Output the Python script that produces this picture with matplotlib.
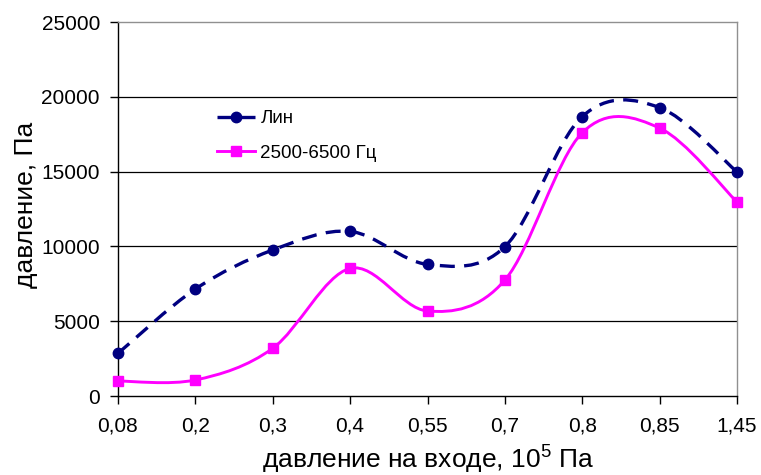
import numpy as np
import matplotlib
matplotlib.use('Agg')
import matplotlib.pyplot as plt
from matplotlib.path import Path
from matplotlib.patches import PathPatch
from matplotlib.lines import Line2D

plt.rcParams['font.family'] = ['Liberation Sans', 'DejaVu Sans']
plt.rcParams['mathtext.fontset'] = 'custom'
plt.rcParams['mathtext.rm'] = 'Liberation Sans'
plt.rcParams['mathtext.default'] = 'regular'

# data
categories = ['0,08', '0,2', '0,3', '0,4', '0,55', '0,7', '0,8', '0,85', '1,45']
lin_values = [2850, 7150, 9760, 11000, 8800, 9980, 18680, 19280, 14980]
hz_values = [1000, 1070, 3190, 8530, 5680, 7750, 17600, 17910, 12970]
y_ticks = [0, 5000, 10000, 15000, 20000, 25000]


def smooth_path(xs, ys):
    # Excel-like smoothed line: Catmull-Rom turned into cubic Bezier pieces
    pts = np.column_stack([xs, ys]).astype(float)
    n = len(pts)
    verts = [pts[0]]
    codes = [Path.MOVETO]
    for i in range(n - 1):
        p0 = pts[i - 1] if i > 0 else pts[i]
        p1 = pts[i]
        p2 = pts[i + 1]
        p3 = pts[i + 2] if i + 2 < n else pts[i + 1]
        c1 = p1 + (p2 - p0) / 6.0
        c2 = p2 - (p3 - p1) / 6.0
        verts += [c1, c2, p2]
        codes += [Path.CURVE4] * 3
    return Path(verts, codes)


fig = plt.figure(figsize=(7.61, 4.75), dpi=100)
ax = fig.add_axes([118 / 761, 1 - 396 / 475, 619 / 761, 374 / 475])

x = np.arange(len(categories))
navy = '#000080'
pink = '#FF00FF'

# grid lines
for v in y_ticks[1:-1]:
    ax.axhline(v, color='black', linewidth=0.9, zorder=1)

# smoothed lines
ax.add_patch(PathPatch(smooth_path(x, lin_values), facecolor='none', edgecolor=navy,
                       linewidth=2.4, linestyle=(0, (4.5, 2.8)), zorder=3))
ax.add_patch(PathPatch(smooth_path(x, hz_values), facecolor='none', edgecolor=pink,
                       linewidth=2.1, zorder=3))

# markers
ax.plot(x, lin_values, linestyle='none', marker='o', markersize=7.5, color=navy,
        zorder=4, clip_on=False)
ax.plot(x, hz_values, linestyle='none', marker='s', markersize=7, color=pink,
        zorder=4, clip_on=False)

ax.set_xlim(0, len(categories) - 1)
ax.set_ylim(0, 25000)
ax.set_xticks(x)
ax.set_xticklabels(categories)
ax.set_yticks(y_ticks)
ax.tick_params(axis='both', direction='out', length=6, width=1, labelsize=15, color='black')
ax.tick_params(axis='x', pad=9)
ax.tick_params(axis='y', pad=7)

for side in ['left', 'bottom']:
    ax.spines[side].set_color('black')
    ax.spines[side].set_linewidth(1)
for side in ['top', 'right']:
    ax.spines[side].set_color('#909090')
    ax.spines[side].set_linewidth(1)

# legend
handles = [
    Line2D([], [], color=navy, linewidth=2.4, linestyle=(0, (4.5, 2.8)),
           marker='o', markersize=7.5),
    Line2D([], [], color=pink, linewidth=2.1, marker='s', markersize=7),
]
ax.legend(handles, ['Лин', '2500-6500 Гц'], loc='upper left',
          bbox_to_anchor=(0.133, 0.809), frameon=False, fontsize=13.5,
          handlelength=2.0, handletextpad=0.3, labelspacing=0.92)

fig.text(26 / 761, 1 - 205 / 475, 'давление, Па', rotation=90,
         ha='center', va='center', fontsize=19)
fig.text(428 / 761, 1 - 469 / 475, 'давление на входе, 10$^{5}$ Па',
         ha='center', va='baseline', fontsize=19)

fig.savefig('out.png', dpi=100)
